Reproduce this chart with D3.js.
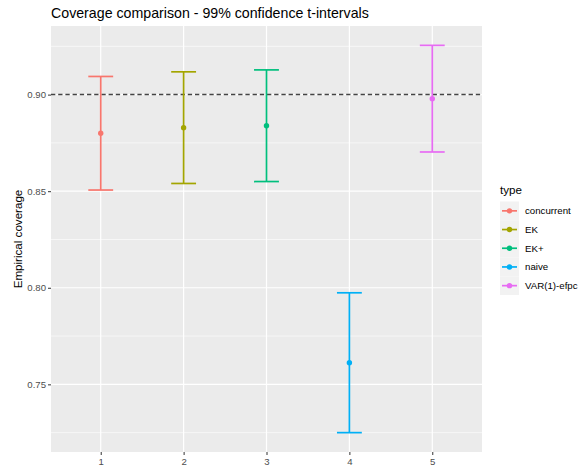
<!DOCTYPE html>
<html>
<head>
<meta charset="utf-8">
<script src="https://cdn.jsdelivr.net/npm/d3@7"></script>
<style>
  html, body { margin: 0; padding: 0; background: #ffffff; }
  svg { display: block; font-family: "Liberation Sans", Arial, Helvetica, sans-serif; }
</style>
</head>
<body>
<svg id="chart" width="579" height="470"></svg>
<script>
// Coverage results per method
const positions = ["1", "2", "3", "4", "5"];
const types = ["concurrent", "EK", "EK+", "naive", "VAR(1)-efpc"];
const coverage = [0.8800, 0.8829, 0.8839, 0.7612, 0.8979];
const lower = [0.8506, 0.8540, 0.8550, 0.7250, 0.8703];
const upper = [0.9094, 0.9118, 0.9128, 0.7974, 0.9255];
const colors = ["#F8766D", "#A3A500", "#00BF7D", "#00B0F6", "#E76BF3"];
const yTicks = [0.75, 0.80, 0.85, 0.90];
const yMinor = [0.725, 0.775, 0.825, 0.875, 0.925];
const nominal = 0.90;

const svg = d3.select("#chart");
const panel = { left: 51, right: 482, top: 26, bottom: 452 };

const x = d3.scalePoint().domain(positions)
  .range([panel.left, panel.right]).padding(0.6);
const step = x.step();

const yMin = d3.min(lower), yMax = d3.max(upper);
const pad = (yMax - yMin) * 0.05;
const y = d3.scaleLinear().domain([yMin - pad, yMax + pad])
  .range([panel.bottom, panel.top]);

// panel background
svg.append("rect")
  .attr("x", panel.left).attr("y", panel.top)
  .attr("width", panel.right - panel.left)
  .attr("height", panel.bottom - panel.top)
  .attr("fill", "#EBEBEB");

// grid lines
svg.append("g").selectAll("line").data(yMinor).join("line")
  .attr("x1", panel.left).attr("x2", panel.right)
  .attr("y1", d => y(d)).attr("y2", d => y(d))
  .attr("stroke", "#ffffff").attr("stroke-width", 0.6);
svg.append("g").selectAll("line").data(yTicks).join("line")
  .attr("x1", panel.left).attr("x2", panel.right)
  .attr("y1", d => y(d)).attr("y2", d => y(d))
  .attr("stroke", "#ffffff").attr("stroke-width", 1.2);
svg.append("g").selectAll("line").data(positions).join("line")
  .attr("x1", d => x(d)).attr("x2", d => x(d))
  .attr("y1", panel.top).attr("y2", panel.bottom)
  .attr("stroke", "#ffffff").attr("stroke-width", 1.2);

// nominal level reference
svg.append("line")
  .attr("x1", panel.left).attr("x2", panel.right)
  .attr("y1", y(nominal)).attr("y2", y(nominal))
  .attr("stroke", "#444444").attr("stroke-width", 1.5)
  .attr("stroke-dasharray", "4.3,2.9");

// error bars and points
const rows = positions.map((p, i) => ({ p, t: types[i], c: coverage[i], lo: lower[i], hi: upper[i], col: colors[i] }));
const capW = step * 0.3;
const eb = svg.append("g").selectAll("g").data(rows).join("g");
eb.append("line")
  .attr("x1", d => x(d.p)).attr("x2", d => x(d.p))
  .attr("y1", d => y(d.lo)).attr("y2", d => y(d.hi))
  .attr("stroke", d => d.col).attr("stroke-width", 1.7);
eb.append("line")
  .attr("x1", d => x(d.p) - capW / 2).attr("x2", d => x(d.p) + capW / 2)
  .attr("y1", d => y(d.hi)).attr("y2", d => y(d.hi))
  .attr("stroke", d => d.col).attr("stroke-width", 1.7);
eb.append("line")
  .attr("x1", d => x(d.p) - capW / 2).attr("x2", d => x(d.p) + capW / 2)
  .attr("y1", d => y(d.lo)).attr("y2", d => y(d.lo))
  .attr("stroke", d => d.col).attr("stroke-width", 1.7);
eb.append("circle")
  .attr("cx", d => x(d.p)).attr("cy", d => y(d.c))
  .attr("r", 2.7).attr("fill", d => d.col);

// axes
const yAxis = svg.append("g")
  .attr("transform", `translate(${panel.left},0)`)
  .call(d3.axisLeft(y).tickValues(yTicks).tickFormat(d3.format(".2f")).tickSize(3).tickPadding(2));
const xAxis = svg.append("g")
  .attr("transform", `translate(0,${panel.bottom})`)
  .call(d3.axisBottom(x).tickSize(3).tickPadding(3));
[yAxis, xAxis].forEach(a => {
  a.select(".domain").remove();
  a.selectAll(".tick line").attr("stroke", "#333333").attr("stroke-width", 1);
  a.selectAll(".tick text").attr("fill", "#4D4D4D")
    .style("font-size", "9.6px").style("font-family", "Liberation Sans, Arial, sans-serif");
});

// titles
svg.append("text")
  .attr("x", panel.left).attr("y", 18)
  .attr("font-size", 14.2).attr("fill", "#000000")
  .text("Coverage comparison - 99% confidence t-intervals");
svg.append("text")
  .attr("transform", `translate(22,${(panel.top + panel.bottom) / 2}) rotate(-90)`)
  .attr("text-anchor", "middle")
  .attr("font-size", 11.6).attr("fill", "#000000")
  .text("Empirical coverage");

// legend
const leg = svg.append("g").attr("transform", "translate(500,0)");
leg.append("text").attr("x", 0).attr("y", 194)
  .attr("font-size", 11.6).attr("fill", "#000000").text("type");
const keyH = 18.7, keyTop = 201.5;
const item = leg.selectAll("g.item").data(rows).join("g")
  .attr("class", "item")
  .attr("transform", (d, i) => `translate(0,${keyTop + i * keyH})`);
item.append("rect").attr("x", 0).attr("y", 0)
  .attr("width", 19).attr("height", keyH)
  .attr("fill", "#F2F2F2");
item.append("line").attr("x1", 2).attr("x2", 17)
  .attr("y1", keyH / 2).attr("y2", keyH / 2)
  .attr("stroke", d => d.col).attr("stroke-width", 1.7);
item.append("circle").attr("cx", 9.5).attr("cy", keyH / 2)
  .attr("r", 2.7).attr("fill", d => d.col);
item.append("text").attr("x", 25).attr("y", keyH / 2)
  .attr("dy", "0.35em").attr("font-size", 9.7).attr("fill", "#000000")
  .text(d => d.t);
</script>
</body>
</html>
